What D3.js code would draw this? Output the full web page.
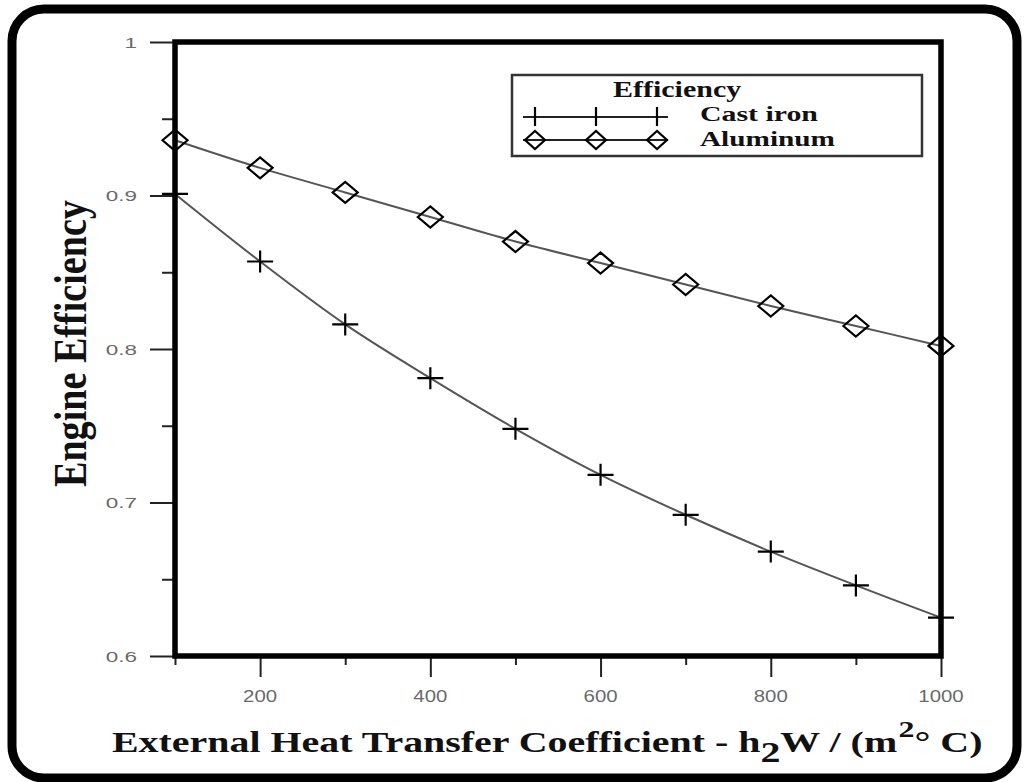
<!DOCTYPE html>
<html>
<head>
<meta charset="utf-8">
<script src="https://cdn.jsdelivr.net/npm/d3@7"></script>
<style>
  html, body { margin: 0; padding: 0; background: #fff; }
  svg { display: block; }
</style>
</head>
<body>
<svg id="chart" width="1024" height="782"></svg>
<script>
// ---- data ----
const hValues = [100, 200, 300, 400, 500, 600, 700, 800, 900, 1000];
const castIron = [0.901, 0.857, 0.816, 0.781, 0.748, 0.718, 0.692, 0.668, 0.646, 0.625];
const aluminum = [0.936, 0.918, 0.902, 0.886, 0.870, 0.856, 0.842, 0.828, 0.815, 0.802];
const xMajorTicks = [200, 400, 600, 800, 1000];
const xMinorTicks = [100, 300, 500, 700, 900];
const yMajorTicks = [0.6, 0.7, 0.8, 0.9, 1];
const yMinorTicks = [0.65, 0.75, 0.85, 0.95];
const yTickLabels = ["0.6", "0.7", "0.8", "0.9", "1"];
const legendTitle = "Efficiency";
const seriesNames = ["Cast iron", "Aluminum"];

const svg = d3.select("#chart");
const L = 175, R = 941, T = 42, B = 656;
const x = d3.scaleLinear().domain([100, 1000]).range([L, R]);
const y = d3.scaleLinear().domain([0.6, 1]).range([B, T]);

// outer rounded frame
svg.append("rect")
  .attr("x", 12).attr("y", 9).attr("width", 1005).attr("height", 769)
  .attr("rx", 32).attr("ry", 32)
  .attr("fill", "none").attr("stroke", "#000").attr("stroke-width", 9);

// axes (ticks only)
const tickColor = "#222";
const yAxisMajor = d3.axisLeft(y).tickValues(yMajorTicks).tickSize(25).tickFormat("");
const yAxisMinor = d3.axisLeft(y).tickValues(yMinorTicks).tickSize(13).tickFormat("");
const xAxisMajor = d3.axisBottom(x).tickValues(xMajorTicks).tickSize(21).tickFormat("");
const xAxisMinor = d3.axisBottom(x).tickValues(xMinorTicks).tickSize(9).tickFormat("");

[[yAxisMajor, `translate(${L},0)`], [yAxisMinor, `translate(${L},0)`],
 [xAxisMajor, `translate(0,${B})`], [xAxisMinor, `translate(0,${B})`]].forEach(([ax, tr]) => {
  const g = svg.append("g").attr("transform", tr).call(ax);
  g.select(".domain").remove();
  g.selectAll(".tick line").attr("stroke", tickColor).attr("stroke-width", 2);
});

// y tick labels
yMajorTicks.forEach((v, i) => {
  svg.append("g")
    .attr("transform", `translate(137,${y(v) + 5.5}) scale(1.5,1)`)
    .append("text")
    .attr("text-anchor", "end")
    .attr("font-family", "Liberation Sans, Arial, sans-serif")
    .attr("font-size", 15)
    .attr("fill", "#6a6a6a")
    .text(yTickLabels[i]);
});

// x tick labels
xMajorTicks.forEach(v => {
  svg.append("g")
    .attr("transform", `translate(${x(v)},702) scale(1.2,1)`)
    .append("text")
    .attr("text-anchor", "middle")
    .attr("font-family", "Liberation Sans, Arial, sans-serif")
    .attr("font-size", 17)
    .attr("fill", "#6a6a6a")
    .text(String(v));
});

// series lines
const lineGen = d3.line().x(d => x(d[0])).y(d => y(d[1])).curve(d3.curveCatmullRom);
const ciPts = hValues.map((h, i) => [h, castIron[i]]);
const alPts = hValues.map((h, i) => [h, aluminum[i]]);

svg.append("path").datum(ciPts).attr("d", lineGen)
  .attr("fill", "none").attr("stroke", "#555").attr("stroke-width", 2);
svg.append("path").datum(alPts).attr("d", lineGen)
  .attr("fill", "none").attr("stroke", "#555").attr("stroke-width", 2);

function plusPath(cx, cy) {
  return `M${cx - 13},${cy}H${cx + 13}M${cx},${cy - 11}V${cy + 11}`;
}
function diamondPath(cx, cy) {
  return `M${cx - 12.5},${cy}L${cx},${cy - 10.5}L${cx + 12.5},${cy}L${cx},${cy + 10.5}Z`;
}

svg.append("g").selectAll("path").data(ciPts).join("path")
  .attr("d", d => plusPath(x(d[0]), y(d[1])))
  .attr("fill", "none").attr("stroke", "#000").attr("stroke-width", 2.2);
svg.append("g").selectAll("path").data(alPts).join("path")
  .attr("d", d => diamondPath(x(d[0]), y(d[1])))
  .attr("fill", "none").attr("stroke", "#000").attr("stroke-width", 2.2);

// plot frame
svg.append("rect")
  .attr("x", L).attr("y", T).attr("width", R - L).attr("height", B - T)
  .attr("fill", "none").attr("stroke", "#000").attr("stroke-width", 5.5);

// legend
svg.append("rect")
  .attr("x", 512).attr("y", 75).attr("width", 410).attr("height", 81)
  .attr("fill", "#fff").attr("stroke", "#333").attr("stroke-width", 2.5);

function fittedText(parent, str, x0, y0, targetW, size) {
  const g = parent.append("g");
  const t = g.append("text")
    .attr("font-family", "Liberation Serif, Times New Roman, serif")
    .attr("font-weight", "bold")
    .attr("font-size", size)
    .attr("fill", "#111")
    .text(str);
  const w = t.node().getBBox().width;
  g.attr("transform", `translate(${x0},${y0}) scale(${targetW / w},1)`);
  return g;
}
fittedText(svg, legendTitle, 613, 97, 129, 23);
fittedText(svg, seriesNames[0], 700, 121, 118, 22);
fittedText(svg, seriesNames[1], 700, 146, 135, 22);

const legX = [535, 596, 657];
svg.append("line").attr("x1", 523).attr("x2", 668).attr("y1", 117).attr("y2", 117)
  .attr("stroke", "#222").attr("stroke-width", 2);
svg.append("line").attr("x1", 523).attr("x2", 668).attr("y1", 140).attr("y2", 140)
  .attr("stroke", "#222").attr("stroke-width", 2);
legX.forEach(px => {
  svg.append("path").attr("d", `M${px},${107}V${126}`)
    .attr("stroke", "#000").attr("stroke-width", 2.2);
  svg.append("path").attr("d", `M${px - 10},140L${px},131L${px + 10},140L${px},149Z`)
    .attr("fill", "none").attr("stroke", "#000").attr("stroke-width", 2.2);
});

// x-axis title
{
  const g = svg.append("g");
  const t = g.append("text")
    .attr("font-family", "Liberation Serif, Times New Roman, serif")
    .attr("font-weight", "bold")
    .attr("font-size", 30)
    .attr("fill", "#111");
  t.append("tspan").text("External Heat Transfer Coefficient - h");
  t.append("tspan").attr("dy", 10).text("2");
  t.append("tspan").attr("dy", -10).text("W / (m");
  t.append("tspan").attr("dx", 1).attr("dy", -15).attr("font-size", 24).text("2");
  t.append("tspan").attr("dy", 15).text("° C)");
  const w = t.node().getBBox().width;
  g.attr("transform", `translate(112,752) scale(${(983 - 112) / w},1)`);
}

// y-axis title
{
  const g = svg.append("g");
  const t = g.append("text")
    .attr("font-family", "Liberation Serif, Times New Roman, serif")
    .attr("font-weight", "bold")
    .attr("font-size", 46)
    .attr("fill", "#111")
    .text("Engine Efficiency");
  const w = t.node().getBBox().width;
  g.attr("transform", `translate(86,487) rotate(-90) scale(${(487 - 200) / w},1)`);
}
</script>
</body>
</html>
